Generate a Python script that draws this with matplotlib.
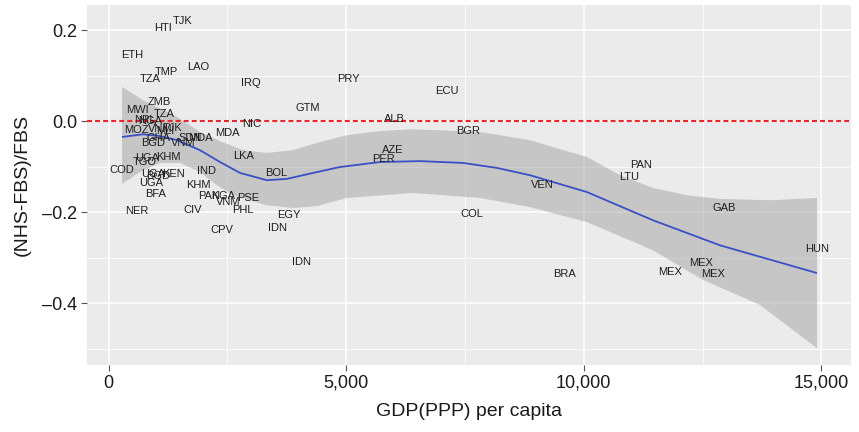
import matplotlib
matplotlib.use("Agg")
import matplotlib.pyplot as plt
from matplotlib.ticker import FixedLocator, FuncFormatter

plt.rcParams["font.family"] = ["Liberation Sans", "DejaVu Sans"]
plt.rcParams["lines.scale_dashes"] = False

# Country observations: GDP(PPP) per capita vs relative difference
countries = ["HTI", "TJK", "ETH", "TMP", "TZA", "LAO", "IRQ", "PRY", "ECU", "GTM",
             "ALB", "BGR", "NIC", "ZMB", "MWI", "TZA", "NPL", "NGA", "MOZ", "VNM",
             "TJK", "MLI", "GHA", "BGD", "VNM", "SDN", "MDA", "MDA", "LKA", "BOL",
             "UGA", "KHM", "TGO", "COD", "IND", "UGA", "BGD", "KEN", "UGA", "BFA",
             "KHM", "PAK", "NGA", "VNM", "PSE", "NER", "CIV", "PHL", "CPV", "EGY",
             "IDN", "IDN", "AZE", "PER", "COL", "VEN", "PAN", "LTU", "GAB", "HUN",
             "BRA", "MEX", "MEX", "MEX"]
gdp = [1147, 1561, 494, 1208, 871, 1881, 2996, 5038, 7121, 4196,
       6006, 7563, 3017, 1061, 598, 1166, 767, 871, 577, 1082,
       1355, 1187, 1040, 935, 1565, 1713, 1923, 2491, 2849, 3522,
       809, 1250, 767, 282, 2070, 935, 1040, 1355, 893, 998,
       1881, 2112, 2407, 2512, 2933, 598, 1775, 2828, 2386, 3796,
       3564, 4069, 5985, 5795, 7647, 9120, 11204, 10952, 12949, 14907,
       9584, 11808, 12460, 12712]
rel_diff = [0.204, 0.220, 0.145, 0.108, 0.092, 0.119, 0.084, 0.092, 0.066, 0.029,
            0.004, -0.022, -0.007, 0.042, 0.024, 0.015, 0.002, 0.000, -0.020, -0.018,
            -0.015, -0.022, -0.037, -0.048, -0.048, -0.037, -0.037, -0.026, -0.077, -0.114,
            -0.081, -0.079, -0.090, -0.108, -0.110, -0.116, -0.121, -0.116, -0.136, -0.160,
            -0.141, -0.165, -0.165, -0.178, -0.169, -0.198, -0.196, -0.196, -0.240, -0.207,
            -0.235, -0.310, -0.064, -0.084, -0.204, -0.141, -0.097, -0.123, -0.191, -0.281,
            -0.336, -0.332, -0.312, -0.336]

# Smoothed trend with confidence band
fit_x = [282, 724, 1082, 1439, 1923, 2344, 2765, 3333, 3754, 4301, 4869,
         5711, 6553, 7458, 8173, 8868, 10067, 11456, 12866, 14907]
fit_y = [-0.035, -0.029, -0.033, -0.042, -0.064, -0.090, -0.114, -0.130, -0.127,
         -0.114, -0.101, -0.090, -0.088, -0.092, -0.103, -0.119, -0.156, -0.218,
         -0.273, -0.334]
band_hi_x = [282, 724, 1439, 1923, 2344, 2828, 3333, 3880, 4385, 5016, 5711,
             6405, 7815, 8868, 9352, 10067, 10762, 11456, 12172, 12866, 13918, 14907]
band_hi_y = [0.075, 0.046, 0.009, -0.024, -0.044, -0.064, -0.070, -0.064, -0.048,
             -0.031, -0.022, -0.018, -0.024, -0.042, -0.057, -0.079, -0.119, -0.147,
             -0.163, -0.171, -0.174, -0.169]
band_lo_x = [282, 661, 1082, 1502, 1923, 2239, 2618, 3333, 3880, 4385, 5016,
             6405, 7815, 8868, 10067, 11456, 12508, 13708, 14907]
band_lo_y = [-0.138, -0.112, -0.092, -0.092, -0.112, -0.138, -0.163, -0.185, -0.191,
             -0.187, -0.169, -0.158, -0.169, -0.189, -0.222, -0.284, -0.349, -0.404,
             -0.499]

x_ticks = [0, 5000, 10000, 15000]
y_ticks = [0.2, 0.0, -0.2, -0.4]

fig = plt.figure(figsize=(8.59, 4.32), dpi=100)
ax = fig.add_axes([87 / 859, 1 - 365 / 432, (851 - 87) / 859, 360 / 432])
ax.set_facecolor("#EBEBEB")

ax.set_xlim(-455, 15623)
ax.set_ylim(-0.536, 0.255)

# Grid (major and minor), white on grey panel
for gx in x_ticks:
    ax.axvline(gx, color="white", lw=1.1, zorder=0.5)
for gy in y_ticks:
    ax.axhline(gy, color="white", lw=1.1, zorder=0.5)
for gx in [2500, 7500, 12500]:
    ax.axvline(gx, color="white", lw=0.55, zorder=0.5)
for gy in [0.1, -0.1, -0.3, -0.5]:
    ax.axhline(gy, color="white", lw=0.55, zorder=0.5)

# Confidence band polygon
poly_x = band_hi_x + band_lo_x[::-1]
poly_y = band_hi_y + band_lo_y[::-1]
ax.fill(poly_x, poly_y, color="#999999", alpha=0.45, lw=0, zorder=1)
ax.plot(fit_x, fit_y, color="#3A50C5", lw=1.3, zorder=2, solid_capstyle="butt")

ax.axhline(0, color="#E8262B", lw=1.5, dashes=(3.6, 2.2), zorder=3)

for lab, gx, gy in zip(countries, gdp, rel_diff):
    ax.text(gx, gy, lab, ha="center", va="center", fontsize=8,
            color="#1F1F1F", zorder=4)

for s in ax.spines.values():
    s.set_visible(False)

ax.xaxis.set_major_locator(FixedLocator(x_ticks))
ax.yaxis.set_major_locator(FixedLocator(y_ticks))
ax.xaxis.set_major_formatter(FuncFormatter(lambda v, p: f"{int(v):,}"))
ax.yaxis.set_major_formatter(FuncFormatter(lambda v, p: f"{v:.1f}".replace("-", "\u2013")))
ax.tick_params(axis="both", length=4, width=0.8, color="#555555",
               labelsize=13, labelcolor="#1A1A1A", pad=3)

ax.set_xlabel("GDP(PPP) per capita", fontsize=14, color="#1A1A1A", labelpad=8)
ax.set_ylabel("(NHS-FBS)/FBS", fontsize=14, color="#1A1A1A", labelpad=8)

fig.savefig("out.png", dpi=100, facecolor="white")
